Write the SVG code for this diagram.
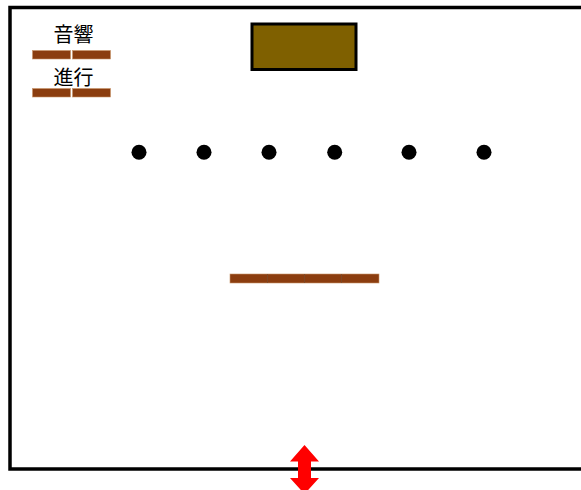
<svg xmlns="http://www.w3.org/2000/svg" width="581" height="490" viewBox="0 0 581 490">
  <style>
    .brick { fill: #8B3D0F; stroke: #C8946A; stroke-width: 0.6; }
    .seam { stroke: #7A4A2A; stroke-width: 0.8; }
    .dot { fill: #000000; }
    .label { font-family: "Noto Sans CJK JP", "Noto Sans CJK SC", sans-serif; font-size: 20px; fill: #000000; text-anchor: middle; }
  </style>
  <rect width="581" height="490" fill="#ffffff"/>
  <g id="frame">
    <rect x="10" y="7.5" width="600" height="461.5" fill="none" stroke="#000000" stroke-width="3.5"/>
  </g>
  <g id="label-sound">
    <text class="label" x="73.5" y="41.5">音響</text>
    <rect class="brick" x="32.5" y="50.5" width="38" height="8.5"/>
    <rect class="brick" x="72.5" y="50.5" width="38" height="8.5"/>
  </g>
  <g id="label-progress">
    <text class="label" x="73.5" y="84.5">進行</text>
    <rect class="brick" x="32.5" y="88.5" width="38" height="8.5"/>
    <rect class="brick" x="72.5" y="88.5" width="38" height="8.5"/>
  </g>
  <g id="stage">
    <rect x="252" y="24" width="104" height="45.5" fill="#7F6000" stroke="#000000" stroke-width="3"/>
  </g>
  <g id="dots">
    <circle class="dot" cx="139" cy="152.3" r="7.5"/>
    <circle class="dot" cx="204" cy="152.3" r="7.5"/>
    <circle class="dot" cx="269" cy="152.3" r="7.5"/>
    <circle class="dot" cx="334.7" cy="152.3" r="7.5"/>
    <circle class="dot" cx="409" cy="152.3" r="7.5"/>
    <circle class="dot" cx="484" cy="152.3" r="7.5"/>
  </g>
  <g id="bar">
    <rect class="brick" x="230" y="274" width="149" height="9"/>
    <line class="seam" x1="267.5" y1="274" x2="267.5" y2="283"/>
    <line class="seam" x1="304.5" y1="274" x2="304.5" y2="283"/>
    <line class="seam" x1="341.5" y1="274" x2="341.5" y2="283"/>
  </g>
  <g id="connectors">
    <polygon id="entrance-arrow" fill="#FF0000" points="304.5,445 319,461.5 311,461.5 311,478 319,478 304.5,494 290,478 298,478 298,461.5 290,461.5"/>
  </g>
</svg>
